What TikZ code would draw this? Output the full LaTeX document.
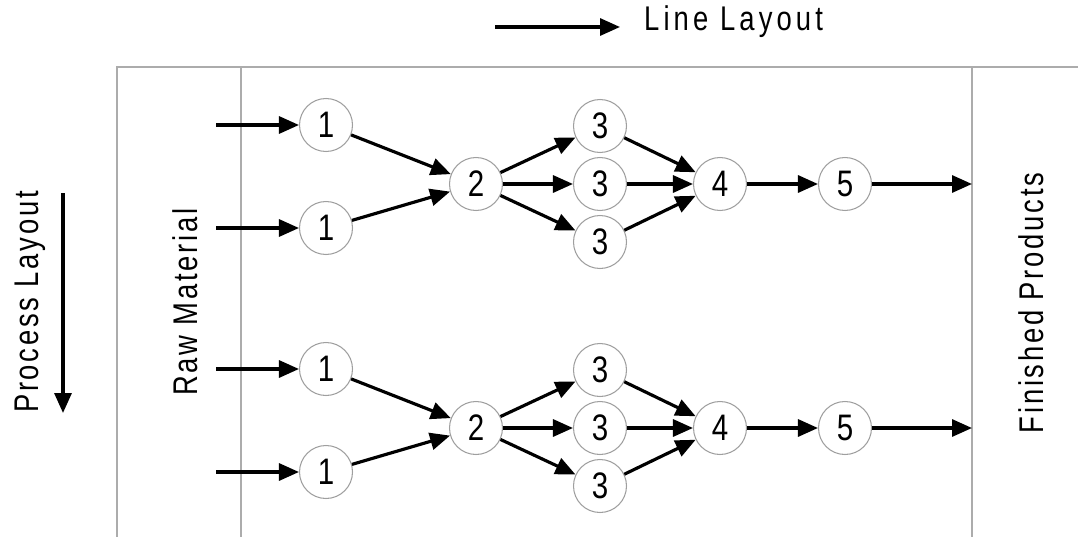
\documentclass[tikz,border=0pt]{standalone}
\usepackage{fontspec}
\setmainfont[FakeStretch=0.8, LetterSpace=8]{Liberation Sans}
\newfontfamily\spacedfont[FakeStretch=0.8, LetterSpace=12]{Liberation Sans}
\usetikzlibrary{arrows.meta}
\tikzset{x=0.02cm, y=-0.02cm,
    every node/.style={font=\fontsize{19.5}{22}\selectfont},
    station/.style={circle, draw=gray!75, line width=0.6pt, minimum size=1.06cm, inner sep=0pt,
        font=\fontsize{21}{22}\selectfont},
    flow/.style={line width=1.8pt, -{Triangle[length=0.4cm, width=0.34cm]}},
    frame/.style={draw=gray!65, line width=0.9pt},
    }

\begin{document}
\begin{tikzpicture}
\useasboundingbox (0,0) rectangle (1078,537);
% frame
\draw[frame] (117,537) -- (117,67) -- (1078,67);
\draw[frame] (241,67) -- (241,537);
\draw[frame] (972,67) -- (972,537);
% side labels
\node[rotate=90] (raw) at (185,302) {Raw Material};
\node[rotate=90] (fin) at (1031,303) {Finished Products};
\node[rotate=90] (proc) at (30,302) {Process Layout};
\coordinate (pa) at (63,193);
\coordinate (pb) at (63,413);
\draw[flow] (pa) -- (pb);
\node[anchor=west, font=\spacedfont\fontsize{19.5}{22}\selectfont] (line) at (638,22) {Line Layout};
\coordinate (la) at (495,27);
\coordinate (lb) at (620,27);
\draw[flow] (la) -- (lb);
% two lines of stations
\foreach \g/\yo in {t/0, b/244}{
\begin{scope}[yshift=-\yo*0.02cm]
  \coordinate (in1\g) at (216,125);
  \coordinate (in2\g) at (216,228);
  \coordinate (out\g) at (972,184);
  \node[station] (s1\g) at (326,125) {1};
  \node[station] (r1\g) at (326,228) {1};
  \node[station] (s2\g) at (476,184) {2};
  \node[station] (s3\g) at (600,126) {3};
  \node[station] (m3\g) at (600,184) {3};
  \node[station] (r3\g) at (600,242) {3};
  \node[station] (s4\g) at (720,184) {4};
  \node[station] (s5\g) at (845,184) {5};
  \draw[flow] (in1\g) -- (s1\g);
  \draw[flow] (in2\g) -- (r1\g);
  \draw[flow] (s1\g) -- (s2\g);
  \draw[flow] (r1\g) -- (s2\g);
  \draw[flow] (s2\g) -- (s3\g);
  \draw[flow] (s2\g) -- (m3\g);
  \draw[flow] (s2\g) -- (r3\g);
  \draw[flow] (s3\g) -- (s4\g);
  \draw[flow] (m3\g) -- (s4\g);
  \draw[flow] (r3\g) -- (s4\g);
  \draw[flow] (s4\g) -- (s5\g);
  \draw[flow] (s5\g) -- (out\g);
\end{scope}
}
\end{tikzpicture}
\end{document}
